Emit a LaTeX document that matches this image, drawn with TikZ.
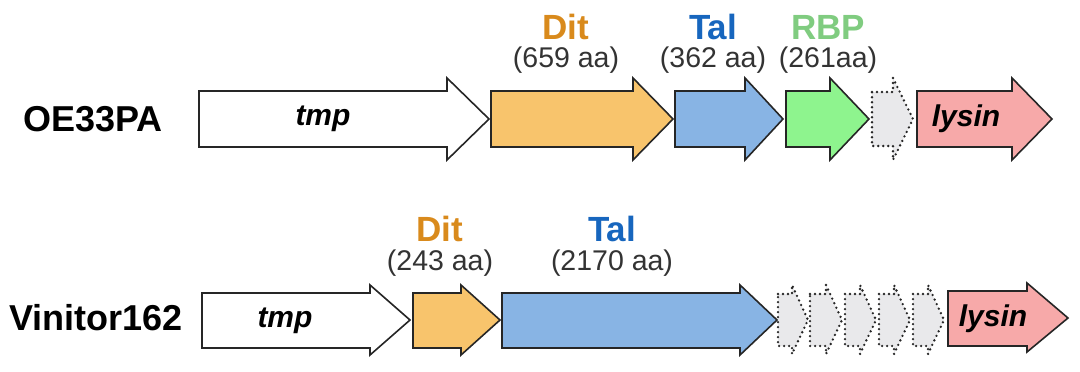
\documentclass[tikz,border=0pt]{standalone}
\usepackage{fontspec}
\setmainfont{Liberation Sans}
\usepackage{tikz}
\usetikzlibrary{positioning}

\definecolor{ditfill}{HTML}{F8C46C}
\definecolor{dittext}{HTML}{D98A1C}
\definecolor{talfill}{HTML}{88B4E4}
\definecolor{taltext}{HTML}{1766BE}
\definecolor{rbpfill}{HTML}{8EF48E}
\definecolor{rbptext}{HTML}{80CC80}
\definecolor{lysfill}{HTML}{F7A9A9}
\definecolor{orffill}{HTML}{E9E9EB}

\begin{document}
\begin{tikzpicture}[
x=1pt, y=-1pt,
strain/.style={font=\bfseries\fontsize{36}{40}\selectfont},
protein/.style={font=\bfseries\fontsize{35}{40}\selectfont},
aasize/.style={font=\fontsize{28.5}{32}\selectfont, text=black!80},
genename/.style={font=\bfseries\itshape\fontsize{30}{34}\selectfont},
gene/.style={draw=black!85, line width=1.6pt, line join=miter},
orf/.style={draw=black!85, line width=2.6pt, dash pattern=on 0pt off 5pt, line cap=round, fill=orffill, line join=round}
]
    \useasboundingbox (0,0) rectangle (1080,372);

    % Strain names
    \node[strain] (oe) at (93,119) {OE33PA};
    \node[strain] (vin) at (96,318) {Vinitor162};

    % OE33PA genes
    \draw[gene, fill=white]
        (199,91) -- (447,91) -- (447,78) -- (489,119) -- (447,160) -- (447,147) -- (199,147) -- cycle;
    \draw[gene, fill=ditfill]
        (491,91) -- (633,91) -- (633,78) -- (673,119) -- (633,160) -- (633,147) -- (491,147) -- cycle;
    \draw[gene, fill=talfill]
        (675,91) -- (745,91) -- (745,78) -- (783,119) -- (745,160) -- (745,147) -- (675,147) -- cycle;
    \draw[gene, fill=rbpfill]
        (786,91) -- (830,91) -- (830,78) -- (869,119) -- (830,160) -- (830,147) -- (786,147) -- cycle;
    \draw[orf]
        (872,92) -- (893,92) -- (893,78) -- (913,119) -- (893,160) -- (893,146) -- (872,146) -- cycle;
    \draw[gene, fill=lysfill]
        (917,91) -- (1012,91) -- (1012,78) -- (1052,119) -- (1012,160) -- (1012,147) -- (917,147) -- cycle;

    \node[genename] (tmpa) at (323,119) {tmp};
    \node[genename] (lysa) at (966,119) {lysin};

    % OE33PA labels
    \node[protein, text=dittext] (dita) at (566,27) {Dit};
    \node[aasize] (ditaa) at (566,60) {(659 aa)};
    \node[protein, text=taltext] (tala) at (713,27) {Tal};
    \node[aasize] (talaa) at (713,60) {(362 aa)};
    \node[protein, text=rbptext] (rbpa) at (828,27) {RBP};
    \node[aasize] (rbpaa) at (828,60) {(261aa)};

    % Vinitor162 genes
    \draw[gene, fill=white]
        (202,293) -- (370,293) -- (370,285) -- (410,320) -- (370,355) -- (370,348) -- (202,348) -- cycle;
    \draw[gene, fill=ditfill]
        (413,293) -- (461,293) -- (461,285) -- (500,320) -- (461,355) -- (461,348) -- (413,348) -- cycle;
    \draw[gene, fill=talfill]
        (502,293) -- (740,293) -- (740,285) -- (777,320) -- (740,355) -- (740,348) -- (502,348) -- cycle;
    \draw[orf]
        (778,294) -- (792,294) -- (792,285) -- (808,320) -- (792,354) -- (792,346) -- (778,346) -- cycle;
    \draw[orf]
        (810,294) -- (826,294) -- (826,285) -- (842,320) -- (826,354) -- (826,346) -- (810,346) -- cycle;
    \draw[orf]
        (845,294) -- (860,294) -- (860,285) -- (876,320) -- (860,354) -- (860,346) -- (845,346) -- cycle;
    \draw[orf]
        (879,294) -- (894,294) -- (894,285) -- (910,320) -- (894,354) -- (894,346) -- (879,346) -- cycle;
    \draw[orf]
        (913,294) -- (928,294) -- (928,285) -- (944,320) -- (928,354) -- (928,346) -- (913,346) -- cycle;
    \draw[gene, fill=lysfill]
        (948,291) -- (1027,291) -- (1027,283) -- (1068,318) -- (1027,352) -- (1027,346) -- (948,346) -- cycle;

    \node[genename] (tmpb) at (285,321) {tmp};
    \node[genename] (lysb) at (993,319) {lysin};

    % Vinitor162 labels
    \node[protein, text=dittext] (ditb) at (440,229) {Dit};
    \node[aasize] (ditbaa) at (440,263) {(243 aa)};
    \node[protein, text=taltext] (talb) at (612,229) {Tal};
    \node[aasize] (talbaa) at (612,263) {(2170 aa)};

\end{tikzpicture}
\end{document}
